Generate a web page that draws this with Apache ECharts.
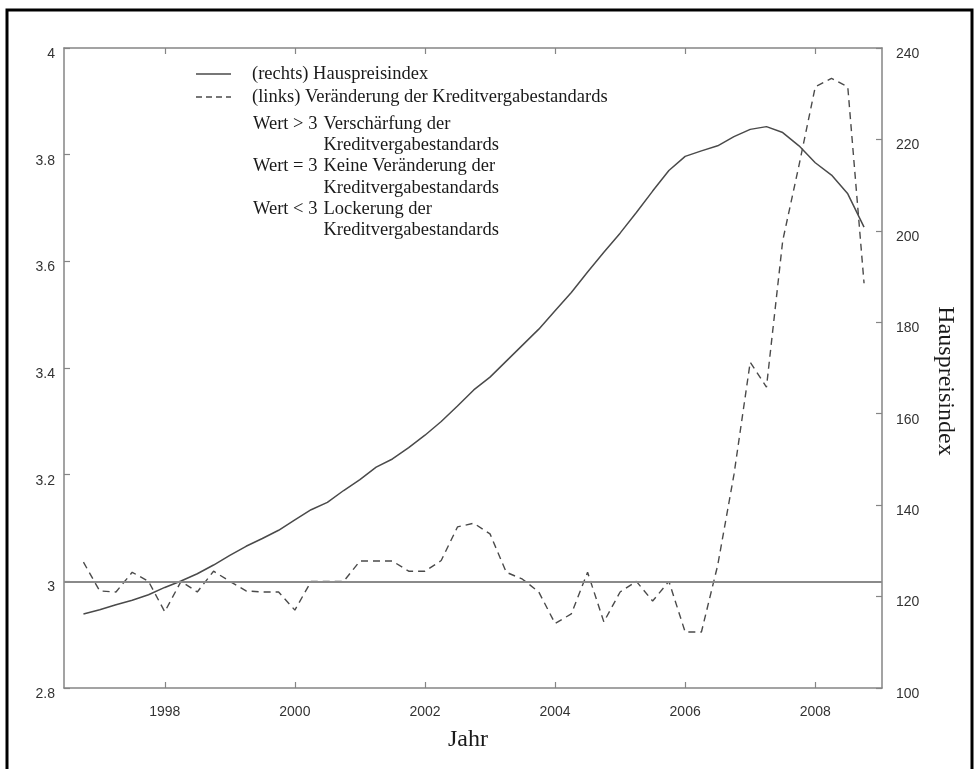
<!DOCTYPE html>
<html>
<head>
<meta charset="utf-8">
<script src="https://cdn.jsdelivr.net/npm/echarts@6/dist/echarts.min.js"></script>
<style>
html,body{margin:0;padding:0;background:#fff;}
#chart{width:977px;height:769px;}
</style>
</head>
<body>
<div id="chart"></div>
<script>
// Quarters (decimal years)
const quarters = [
  1996.75,
  1997.00, 1997.25, 1997.50, 1997.75,
  1998.00, 1998.25, 1998.50, 1998.75,
  1999.00, 1999.25, 1999.50, 1999.75,
  2000.00, 2000.25, 2000.50, 2000.75,
  2001.00, 2001.25, 2001.50, 2001.75,
  2002.00, 2002.25, 2002.50, 2002.75,
  2003.00, 2003.25, 2003.50, 2003.75,
  2004.00, 2004.25, 2004.50, 2004.75,
  2005.00, 2005.25, 2005.50, 2005.75,
  2006.00, 2006.25, 2006.50, 2006.75,
  2007.00, 2007.25, 2007.50, 2007.75,
  2008.00, 2008.25, 2008.50, 2008.75
];
// (rechts) Hauspreisindex
const hausPreisIndex = [
  116.2,
  117.1, 118.2, 119.2, 120.4,
  122.0, 123.4, 125.0, 126.9,
  129.0, 131.0, 132.7, 134.5,
  136.8, 139.0, 140.6, 143.2,
  145.6, 148.3, 150.1, 152.6,
  155.3, 158.3, 161.7, 165.2,
  168.0, 171.5, 175.0, 178.5,
  182.5, 186.5, 191.0, 195.3,
  199.5, 204.0, 208.7, 213.2,
  216.3, 217.5, 218.6, 220.6,
  222.2, 222.8, 221.5, 218.6,
  214.9, 212.2, 208.1, 200.8
];
// (links) Veränderung der Kreditvergabestandards
const kreditStandards = [
  3.036,
  2.982, 2.980, 3.017, 3.000,
  2.943, 3.000, 2.980, 3.019,
  3.000, 2.982, 2.980, 2.980,
  2.946, 3.000, 3.000, 3.000,
  3.038, 3.038, 3.038, 3.019,
  3.019, 3.039, 3.102, 3.109,
  3.089, 3.017, 3.004, 2.980,
  2.921, 2.939, 3.017, 2.924,
  2.980, 3.000, 2.963, 3.000,
  2.905, 2.905, 3.030, 3.200,
  3.411, 3.364, 3.639, 3.780,
  3.927, 3.943, 3.927, 3.559
];
const yearTicks = [1998, 2000, 2002, 2004, 2006, 2008];
const leftTicks = [2.8, 3, 3.2, 3.4, 3.6, 3.8, 4];
const rightTicks = [100, 120, 140, 160, 180, 200, 220, 240];
const referenceLevel = 3;

const legendTexts = {
  solid: '(rechts) Hauspreisindex',
  dashed: '(links) Veränderung der Kreditvergabestandards',
  notes: [
    ['Wert > 3 ', 'Verschärfung der'],
    ['', 'Kreditvergabestandards'],
    ['Wert = 3 ', 'Keine Veränderung der'],
    ['', 'Kreditvergabestandards'],
    ['Wert < 3 ', 'Lockerung der'],
    ['', 'Kreditvergabestandards']
  ]
};
const xTitle = 'Jahr';
const yRightTitle = 'Hauspreisindex';

const SERIF = '"Liberation Serif", "Times New Roman", serif';
const SANS = '"Liberation Sans", Arial, sans-serif';
const axisColor = '#858585';
const lineColor = '#4a4a4a';

const chart = echarts.init(document.getElementById('chart'));

const xMin = 1996.451, xMax = 2009.026;

const axisCommon = {
  axisLine: { show: true, lineStyle: { color: axisColor, width: 1.5 } },
  splitLine: { show: false }
};

const graphics = [
  { type: 'rect', shape: { x: 7, y: 10, width: 965, height: 800 },
    style: { fill: 'none', stroke: '#000', lineWidth: 3 }, silent: true },
  { type: 'line', shape: { x1: 196, y1: 74, x2: 231, y2: 74 },
    style: { stroke: lineColor, lineWidth: 1.3 } },
  { type: 'text', x: 252, y: 74, style: { text: legendTexts.solid, font: '18.5px ' + SERIF, fill: '#1a1a1a', verticalAlign: 'middle' } },
  { type: 'line', shape: { x1: 196, y1: 97, x2: 231, y2: 97 },
    style: { stroke: lineColor, lineWidth: 1.3, lineDash: [6, 4] } },
  { type: 'text', x: 252, y: 97, style: { text: legendTexts.dashed, font: '18.5px ' + SERIF, fill: '#1a1a1a', verticalAlign: 'middle' } }
];
legendTexts.notes.forEach((n, i) => {
  const y = 124 + i * 21.3;
  if (n[0]) graphics.push({ type: 'text', x: 253, y: y, style: { text: n[0], font: '18.5px ' + SERIF, fill: '#1a1a1a', verticalAlign: 'middle' } });
  graphics.push({ type: 'text', x: 323.5, y: y, style: { text: n[1], font: '18.5px ' + SERIF, fill: '#1a1a1a', verticalAlign: 'middle' } });
});
graphics.push({ type: 'text', x: 468, y: 740, style: { text: xTitle, font: '24px ' + SERIF, fill: '#1a1a1a', align: 'center', verticalAlign: 'middle' } });
graphics.push({ type: 'text', x: 945, y: 381, rotation: -Math.PI / 2, style: { text: yRightTitle, font: '24px ' + SERIF, fill: '#1a1a1a', align: 'center', verticalAlign: 'middle' } });

chart.setOption({
  animation: false,
  backgroundColor: '#fff',
  grid: { left: 64, right: 95, top: 48, bottom: 81, containLabel: false },
  xAxis: [
    Object.assign({}, axisCommon, {
      type: 'value', position: 'bottom', min: xMin, max: xMax,
      axisTick: { show: true, inside: true, length: 6, lineStyle: { color: axisColor, width: 1.2 }, customValues: yearTicks },
      axisLabel: { show: true, margin: 17, fontFamily: SANS, fontSize: 14, color: '#333', customValues: yearTicks, formatter: v => String(Math.round(v)) }
    }),
    Object.assign({}, axisCommon, {
      type: 'value', position: 'top', min: xMin, max: xMax,
      axisTick: { show: true, inside: true, length: 6, lineStyle: { color: axisColor, width: 1.2 }, customValues: yearTicks },
      axisLabel: { show: false }
    })
  ],
  yAxis: [
    Object.assign({}, axisCommon, {
      type: 'value', position: 'left', min: 2.8, max: 4,
      axisTick: { show: true, inside: true, length: 6, lineStyle: { color: axisColor, width: 1.2 }, customValues: leftTicks },
      axisLabel: { show: true, margin: 9, fontFamily: SANS, fontSize: 14, color: '#333', customValues: leftTicks, verticalAlign: 'top', lineHeight: 12,
        formatter: v => String(Math.round(v * 10) / 10) }
    }),
    Object.assign({}, axisCommon, {
      type: 'value', position: 'right', min: 100, max: 240,
      axisTick: { show: true, inside: true, length: 6, lineStyle: { color: axisColor, width: 1.2 }, customValues: rightTicks },
      axisLabel: { show: true, margin: 14, fontFamily: SANS, fontSize: 14, color: '#333', customValues: rightTicks, verticalAlign: 'top', lineHeight: 12,
        formatter: v => String(Math.round(v)) }
    })
  ],
  series: [
    {
      name: legendTexts.dashed, type: 'line', xAxisIndex: 0, yAxisIndex: 0,
      data: quarters.map((q, i) => [q, kreditStandards[i]]),
      symbol: 'none', smooth: false,
      lineStyle: { color: lineColor, width: 1.4, type: [7, 5] },
      markLine: {
        silent: true, symbol: 'none', label: { show: false },
        lineStyle: { color: '#8a8a8a', width: 2, type: 'solid' },
        data: [{ yAxis: referenceLevel }]
      },
      z: 3
    },
    {
      name: legendTexts.solid, type: 'line', xAxisIndex: 0, yAxisIndex: 1,
      data: quarters.map((q, i) => [q, hausPreisIndex[i]]),
      symbol: 'none', smooth: false,
      lineStyle: { color: lineColor, width: 1.5, type: 'solid' },
      z: 4
    }
  ],
  graphic: graphics
});
</script>
</body>
</html>
